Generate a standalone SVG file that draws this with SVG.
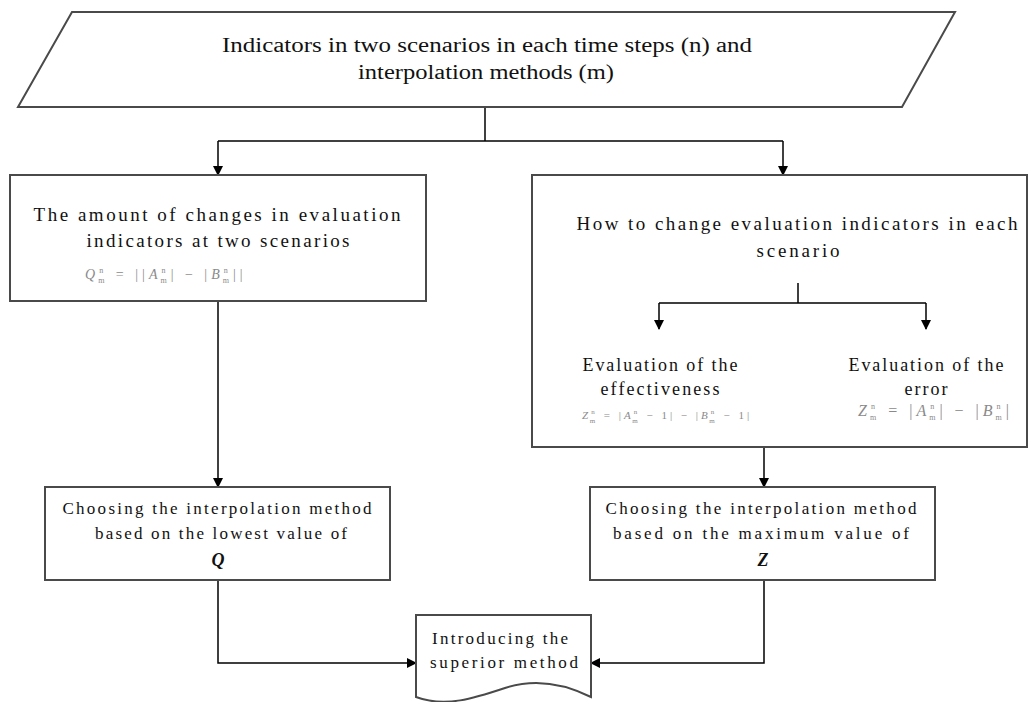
<svg xmlns="http://www.w3.org/2000/svg" width="1030" height="702" viewBox="0 0 1030 702">
<defs>
<marker id="arr" markerWidth="10" markerHeight="10" refX="9" refY="5" orient="auto" markerUnits="userSpaceOnUse">
<path d="M0,0 L10,5 L0,10 Z" fill="#000"/>
</marker>
<style>
.box{fill:#fff;stroke:#4a4a4a;stroke-width:2}
.t{font-family:"Liberation Serif","Times New Roman",serif;fill:#111;text-anchor:middle}
.f{font-family:"Liberation Serif","Times New Roman",serif;fill:#8a8a8a;letter-spacing:3.5px}
.c{fill:none;stroke:#000;stroke-width:1.5}
</style>
</defs>
<rect width="1030" height="702" fill="#fff"/>

<g id="connectors">
<path class="c" d="M485,107 V141"/>
<path class="c" d="M218,141 H783"/>
<path class="c" d="M218,141 V175" marker-end="url(#arr)"/>
<path class="c" d="M783,141 V175" marker-end="url(#arr)"/>
<path class="c" d="M218,301 V487" marker-end="url(#arr)"/>
<path class="c" d="M764,447 V487" marker-end="url(#arr)"/>
<path class="c" d="M218,580 V663 H416" marker-end="url(#arr)"/>
<path class="c" d="M764,580 V663 H591" marker-end="url(#arr)"/>
</g>

<g id="input">
<polygon class="box" points="72,12 955,12 902,107 18,107"/>
<text class="t" x="487" y="52" font-size="20" textLength="530" lengthAdjust="spacingAndGlyphs">Indicators in two scenarios in each time steps (n) and</text>
<text class="t" x="486" y="79" font-size="20" textLength="256" lengthAdjust="spacingAndGlyphs">interpolation methods (m)</text>
</g>

<g id="amount">
<rect class="box" x="10" y="175" width="416" height="126"/>
<text class="t" x="217" y="221" font-size="19" textLength="367" lengthAdjust="spacing">The amount of changes in evaluation</text>
<text class="t" x="218" y="247" font-size="19" textLength="263" lengthAdjust="spacing">indicators at two scenarios</text>
<text class="f" x="85" y="279" font-size="14" style="letter-spacing:4px"><tspan font-style="italic">Q</tspan><tspan font-size="8" dy="-6">n</tspan><tspan font-size="8" dx="-9" dy="10">m</tspan><tspan dy="-4"> = ||</tspan><tspan font-style="italic">A</tspan><tspan font-size="8" dy="-6">n</tspan><tspan font-size="8" dx="-9" dy="10">m</tspan><tspan dy="-4">| − |</tspan><tspan font-style="italic">B</tspan><tspan font-size="8" dy="-6">n</tspan><tspan font-size="8" dx="-9" dy="10">m</tspan><tspan dy="-4">||</tspan></text>
</g>

<g id="how">
<rect class="box" x="532" y="175" width="495" height="272"/>
<text class="t" x="797" y="230" font-size="19" textLength="441" lengthAdjust="spacing">How to change evaluation indicators in each</text>
<text class="t" x="798" y="257" font-size="19" textLength="83" lengthAdjust="spacing">scenario</text>
<path class="c" d="M798,283 V303 M659,303 H926"/>
<path class="c" d="M659,303 V329" marker-end="url(#arr)"/>
<path class="c" d="M926,303 V329" marker-end="url(#arr)"/>
<text class="t" x="660" y="371" font-size="18" textLength="155" lengthAdjust="spacing">Evaluation of the</text>
<text class="t" x="660" y="395" font-size="18" textLength="119" lengthAdjust="spacing">effectiveness</text>
<text class="f" x="582" y="419" font-size="11" style="letter-spacing:3px"><tspan font-style="italic">Z</tspan><tspan font-size="7" dy="-5">n</tspan><tspan font-size="7" dx="-8" dy="9">m</tspan><tspan dy="-4"> = |</tspan><tspan font-style="italic">A</tspan><tspan font-size="7" dy="-5">n</tspan><tspan font-size="7" dx="-8" dy="9">m</tspan><tspan dy="-4"> − 1| − |</tspan><tspan font-style="italic">B</tspan><tspan font-size="7" dy="-5">n</tspan><tspan font-size="7" dx="-8" dy="9">m</tspan><tspan dy="-4"> − 1|</tspan></text>
<text class="t" x="926" y="371" font-size="18" textLength="155" lengthAdjust="spacing">Evaluation of the</text>
<text class="t" x="926" y="395" font-size="18" textLength="43" lengthAdjust="spacing">error</text>
<text class="f" x="858" y="416" font-size="16" style="letter-spacing:4px"><tspan font-style="italic">Z</tspan><tspan font-size="8" dy="-7">n</tspan><tspan font-size="8" dx="-9" dy="11">m</tspan><tspan dy="-4"> = |</tspan><tspan font-style="italic">A</tspan><tspan font-size="8" dy="-7">n</tspan><tspan font-size="8" dx="-9" dy="11">m</tspan><tspan dy="-4">| − |</tspan><tspan font-style="italic">B</tspan><tspan font-size="8" dy="-7">n</tspan><tspan font-size="8" dx="-9" dy="11">m</tspan><tspan dy="-4">|</tspan></text>
</g>

<g id="chooseQ">
<rect class="box" x="45" y="487" width="345" height="93"/>
<text class="t" x="217" y="514" font-size="17" textLength="309" lengthAdjust="spacing">Choosing the interpolation method</text>
<text class="t" x="221" y="539" font-size="17" textLength="252" lengthAdjust="spacing">based on the lowest value of</text>
<text class="t" x="218" y="566" font-size="18" font-weight="bold" font-style="italic">Q</text>
</g>

<g id="chooseZ">
<rect class="box" x="590" y="487" width="345" height="93"/>
<text class="t" x="761" y="514" font-size="17" textLength="311" lengthAdjust="spacing">Choosing the interpolation method</text>
<text class="t" x="761" y="539" font-size="17" textLength="296" lengthAdjust="spacing">based on the maximum value of</text>
<text class="t" x="763" y="566" font-size="18" font-weight="bold" font-style="italic">Z</text>
</g>

<g id="superior">
<path class="box" d="M416,615 H591 V697 C565,684 535,678 505,688 C475,698 445,708 416,697 Z"/>
<text class="t" x="500" y="644" font-size="17" textLength="136" lengthAdjust="spacing">Introducing the</text>
<text class="t" x="504" y="668" font-size="17" textLength="148" lengthAdjust="spacing">superior method</text>
</g>
</svg>
